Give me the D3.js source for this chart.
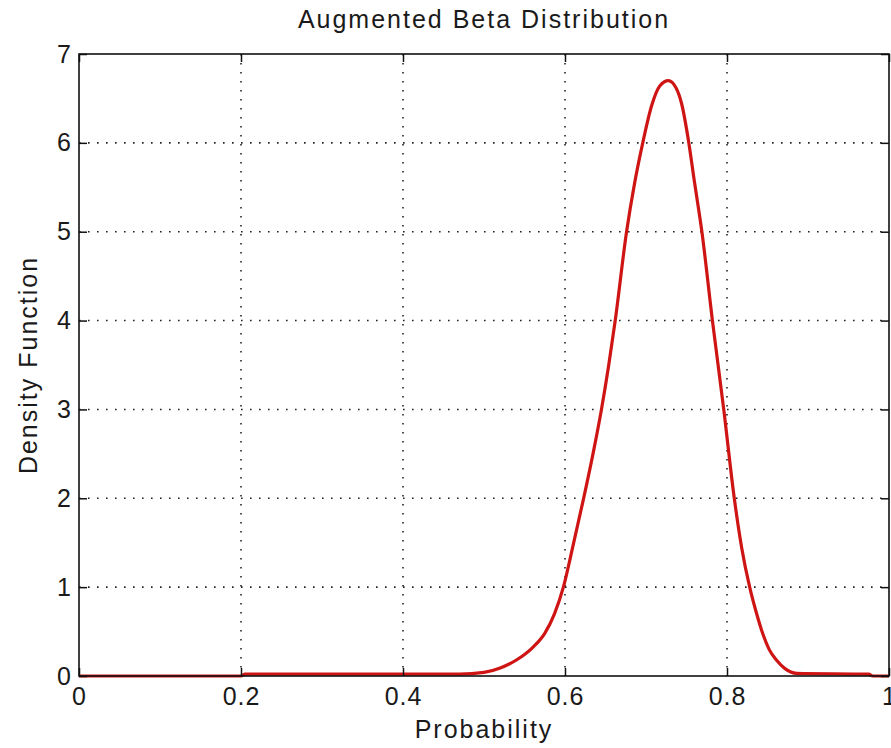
<!DOCTYPE html>
<html>
	<head>
		<title>Augmented Beta Distribution</title>
		<script src="https://d3js.org/d3.v7.min.js" charset="utf-8"></script>
		<style>
			body { margin: 0; background: white; }
			text { font-family: "Liberation Sans", Arial, sans-serif; fill: #1a1a1a; }
			.tick text { font-size: 25px; letter-spacing: 1px; }
			.grid line { stroke: #222; stroke-width: 1.6px; stroke-dasharray: 1.6,7.4; }
		</style>
	</head>
	<body>
		<script>
			// values
			var xTicks = [0, 0.2, 0.4, 0.6, 0.8, 1];
			var yTicks = [0, 1, 2, 3, 4, 5, 6, 7];
			var probability = [0, 0.2, 0.205, 0.47, 0.5, 0.52, 0.54, 0.56, 0.575, 0.587, 0.598, 0.61, 0.623, 0.635, 0.645,
				0.654, 0.662, 0.676, 0.686, 0.696, 0.707, 0.717, 0.7276, 0.737, 0.744, 0.752, 0.76, 0.769, 0.782, 0.796,
				0.809, 0.818, 0.828, 0.836, 0.844, 0.852, 0.861, 0.872, 0.886, 0.975, 0.98, 1];
			var density = [0, 0, 0.02, 0.02, 0.04, 0.09, 0.18, 0.32, 0.48, 0.7, 1.0, 1.47, 2.0, 2.52, 3.0,
				3.5, 4.0, 5.0, 5.55, 6.0, 6.42, 6.64, 6.70, 6.62, 6.44, 6.05, 5.55, 5.0, 4.0, 3.0,
				2.0, 1.45, 1.0, 0.72, 0.48, 0.3, 0.18, 0.08, 0.03, 0.02, 0, 0];

			var W = 891, H = 748;
			var margin = { left: 79, right: 2, top: 54, bottom: 72 };
			var w = W - margin.left - margin.right, h = H - margin.top - margin.bottom;

			var svg = d3.select('body').append('svg').attr('width', W).attr('height', H);
			var g = svg.append('g').attr('transform', 'translate(' + margin.left + ',' + margin.top + ')');

			var x = d3.scaleLinear().domain([0, 1]).range([0, w]);
			var y = d3.scaleLinear().domain([0, 7]).range([h, 0]);

			// dotted grid
			g.append('g').attr('class', 'grid')
				.selectAll('line').data(xTicks.slice(1, -1)).enter().append('line')
				.attr('x1', function (d) { return x(d); }).attr('x2', function (d) { return x(d); })
				.attr('y1', 0).attr('y2', h);
			g.append('g').attr('class', 'grid')
				.selectAll('line').data(yTicks.slice(1, -1)).enter().append('line')
				.attr('y1', function (d) { return y(d); }).attr('y2', function (d) { return y(d); })
				.attr('x1', 0).attr('x2', w);

			// the curve
			var pts = probability.map(function (p, i) { return [p, density[i]]; });
			g.append('path')
				.datum(pts)
				.attr('fill', 'none')
				.attr('stroke', '#cf1414')
				.attr('stroke-width', 3.2)
				.attr('stroke-linejoin', 'round')
				.attr('d', d3.line()
					.x(function (d) { return x(d[0]); })
					.y(function (d) { return y(d[1]); })
					.curve(d3.curveMonotoneX));

			// axes, ticks pointing inward like matlab
			var fmt = function (d) { return String(d); };
			g.append('g').attr('transform', 'translate(0,' + h + ')')
				.call(d3.axisBottom(x).tickValues(xTicks).tickFormat(fmt).tickSize(-8).tickSizeOuter(0).tickPadding(11));
			g.append('g')
				.call(d3.axisLeft(y).tickValues(yTicks).tickFormat(fmt).tickSize(-8).tickSizeOuter(0).tickPadding(7));
			g.append('g')
				.call(d3.axisTop(x).tickValues(xTicks).tickFormat('').tickSize(-8).tickSizeOuter(0));
			g.append('g').attr('transform', 'translate(' + w + ',0)')
				.call(d3.axisRight(y).tickValues(yTicks).tickFormat('').tickSize(-8).tickSizeOuter(0));
			g.selectAll('.domain').remove();
			g.selectAll('.tick line').attr('stroke', '#111').attr('stroke-width', 1.5);

			g.append('rect')
				.attr('width', w).attr('height', h)
				.attr('fill', 'none').attr('stroke', '#111').attr('stroke-width', 1.6);

			// labels
			svg.append('text')
				.attr('x', margin.left + w / 2).attr('y', 28)
				.attr('text-anchor', 'middle')
				.attr('font-size', '25px').attr('letter-spacing', '2px')
				.text('Augmented Beta Distribution');
			svg.append('text')
				.attr('x', margin.left + w / 2).attr('y', 738)
				.attr('text-anchor', 'middle')
				.attr('font-size', '25px').attr('letter-spacing', '2px')
				.text('Probability');
			svg.append('text')
				.attr('transform', 'translate(37,' + (margin.top + h / 2) + ') rotate(-90)')
				.attr('text-anchor', 'middle')
				.attr('font-size', '25px').attr('letter-spacing', '2px')
				.text('Density Function');
		</script>
	</body>
</html>
